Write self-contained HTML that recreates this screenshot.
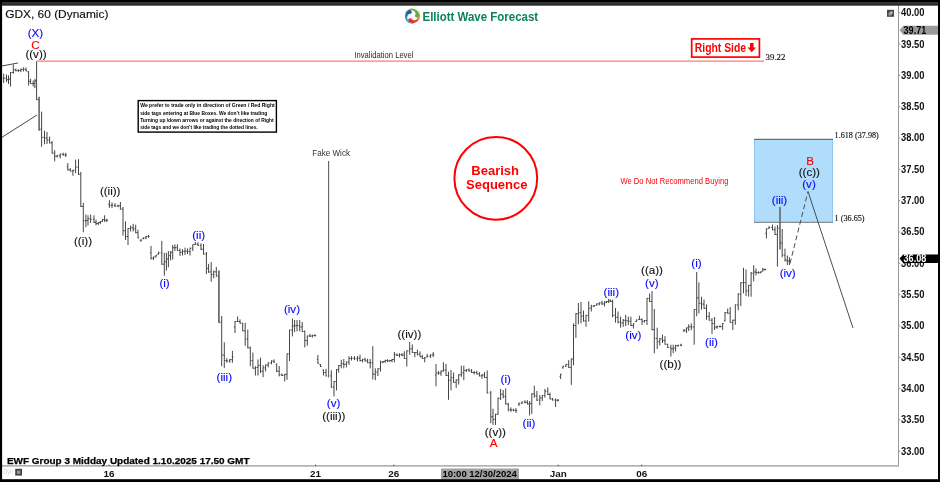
<!DOCTYPE html>
<html><head><meta charset="utf-8"><title>GDX Elliott Wave Chart</title>
<style>html,body{margin:0;padding:0;background:#fff;overflow:hidden}svg{display:block}text{font-family:"Liberation Sans",Arial,sans-serif}.s{font-family:"Liberation Serif","Times New Roman",serif}.b{font-weight:bold}.w{font-size:11.6px}</style></head><body>
<svg width="940" height="482" viewBox="0 0 940 482">
<rect width="940" height="482" fill="#fff"/>
<rect x="754" y="139" width="79" height="83.5" fill="#b1ddfd"/>
<path d="M754.5 139V222.5M832.5 139V222.5" stroke="#8ec6f2" stroke-width="1"/>
<path d="M754 139.3H833" stroke="#333" stroke-width=".8"/><path d="M754 222.3H833" stroke="#777" stroke-width="1"/>
<path d="M36.5 61H764" stroke="#ff2020" stroke-opacity=".6" stroke-width="1.25"/>
<path d="M0 66.3L18 63" stroke="#333" stroke-width=".9"/><path d="M0 138.5L37 115" stroke="#333" stroke-width=".9"/>
<path d="M328.6 161V377.5" stroke="#5a5a5a" stroke-width="1.05"/>
<g><path d="M3.7 73.7V83.0M3.7 78.3h-1.1M3.7 78.3h1.1M6.5 74.6V82.0M6.5 78.3h-1.1M6.5 79.7h1.1M8.5 75.4V84.0M8.5 79.7h-1.1M8.5 79.2h1.1M10.5 72.0V86.5M10.5 79.2h-1.1M10.5 72.5h1.1M13.3 64.4V73.7M13.3 72.5h-1.1M13.3 69.9h1.1M15.8 68.5V71.4M15.8 69.9h-1.1M15.8 70.6h1.1M18.4 69.3V71.9M18.4 70.6h-1.1M18.4 70.4h1.1M20.9 68.6V72.2M20.9 70.4h-1.1M20.9 69.4h1.1M23.4 67.4V71.5M23.4 69.4h-1.1M23.4 69.4h1.1M26.0 67.5V71.3M26.0 69.4h-1.1M26.0 70.8h1.1M28.6 71.2V85.6M28.6 71.7h-1.1M28.6 81.4h1.1M30.6 78.8V84.0M30.6 81.4h-1.1M30.6 83.5h1.1M33.2 80.5V86.5M33.2 83.5h-1.1M33.2 83.5h1.1M34.9 78.8V88.2M34.9 83.5h-1.1M34.9 80.8h1.1M36.6 61.5V100.1M36.6 80.8h-1.1M36.6 99.6h1.1M41.6 111.6V146.8M41.6 129.2h-1.1M41.6 137.4h1.1M44.5 130.6V144.3M44.5 137.4h-1.1M44.5 138.0h1.1M47.0 132.0V144.0M47.0 138.0h-1.1M47.0 140.0h1.1M49.6 136.6V143.4M49.6 140.0h-1.1M49.6 142.9h1.1M52.1 140.9V153.6M52.1 142.9h-1.1M52.1 153.1h1.1M54.7 150.2V161.3M54.7 153.1h-1.1M54.7 156.1h1.1M57.2 154.8V157.5M57.2 156.1h-1.1M57.2 155.8h1.1M60.2 153.3V158.4M60.2 155.8h-1.1M60.2 154.2h1.1M63.2 152.7V155.8M63.2 154.2h-1.1M63.2 154.9h1.1M65.7 152.8V157.0M65.7 154.9h-1.1M65.7 154.9h1.1M67.8 163.0V170.6M67.8 166.8h-1.1M67.8 169.8h1.1M70.3 168.0V171.5M70.3 169.8h-1.1M70.3 171.0h1.1M72.9 169.8V175.7M72.9 171.0h-1.1M72.9 170.3h1.1M75.6 159.6V173.2M75.6 170.3h-1.1M75.6 167.1h1.1M78.5 159.2V174.9M78.5 167.1h-1.1M78.5 174.4h1.1M80.8 172.0V207.0M80.8 174.4h-1.1M80.8 206.5h1.1M83.3 202.8V232.3M83.3 206.5h-1.1M83.3 220.8h1.1M85.9 214.5V227.2M85.9 220.8h-1.1M85.9 220.4h1.1M88.0 215.3V225.5M88.0 220.4h-1.1M88.0 218.8h1.1M90.6 214.5V223.0M90.6 218.8h-1.1M90.6 219.2h1.1M94.0 215.3V223.0M94.0 219.2h-1.1M94.0 222.5h1.1M96.0 219.6V225.5M96.0 222.5h-1.1M96.0 223.5h1.1M98.3 222.0V225.0M98.3 223.5h-1.1M98.3 222.5h1.1M100.3 221.0V224.0M100.3 222.5h-1.1M100.3 221.5h1.1M102.5 219.0V222.0M102.5 221.5h-1.1M102.5 219.5h1.1M104.6 215.3V222.0M104.6 219.5h-1.1M104.6 220.3h1.1M106.8 218.7V222.0M106.8 220.3h-1.1M106.8 220.3h1.1M109.4 200.2V207.9M109.4 204.1h-1.1M109.4 205.3h1.1M112.0 202.5V208.0M112.0 205.3h-1.1M112.0 205.2h1.1M115.0 203.3V207.0M115.0 205.2h-1.1M115.0 206.0h1.1M118.0 204.7V207.2M118.0 206.0h-1.1M118.0 205.8h1.1M120.4 202.0V209.6M120.4 205.8h-1.1M120.4 209.1h1.1M123.0 206.8V235.7M123.0 209.1h-1.1M123.0 230.7h1.1M125.5 221.3V240.0M125.5 230.7h-1.1M125.5 236.5h1.1M128.0 228.0V245.0M128.0 236.5h-1.1M128.0 228.5h1.1M130.6 225.5V231.5M130.6 228.5h-1.1M130.6 227.7h1.1M133.2 223.8V231.5M133.2 227.7h-1.1M133.2 228.9h1.1M135.7 224.7V233.2M135.7 228.9h-1.1M135.7 232.7h1.1M138.0 229.8V238.3M138.0 232.7h-1.1M138.0 237.8h1.1M140.9 239.6V241.8M140.9 240.1h-1.1M140.9 240.1h1.1M143.4 237.4V239.2M143.4 238.7h-1.1M143.4 237.9h1.1M146.0 235.9V239.3M146.0 237.9h-1.1M146.0 236.4h1.1M148.5 234.9V237.8M148.5 236.4h-1.1M148.5 236.4h1.1M151.0 246.0V259.6M151.0 252.8h-1.1M151.0 258.3h1.1M153.5 256.5V260.1M153.5 258.3h-1.1M153.5 257.0h1.1M156.0 254.8V257.4M156.0 256.9h-1.1M156.0 255.3h1.1M158.5 251.6V254.7M158.5 254.2h-1.1M158.5 252.8h1.1M161.8 240.9V264.7M161.8 252.8h-1.1M161.8 264.2h1.1M164.3 252.8V275.7M164.3 264.2h-1.1M164.3 261.7h1.1M166.4 252.8V270.6M166.4 261.7h-1.1M166.4 259.1h1.1M168.4 251.0V267.2M168.4 259.1h-1.1M168.4 255.7h1.1M170.6 251.0V260.4M170.6 255.7h-1.1M170.6 252.3h1.1M172.7 245.0V259.6M172.7 252.3h-1.1M172.7 247.7h1.1M174.9 244.3V251.0M174.9 247.7h-1.1M174.9 247.7h1.1M177.4 244.3V251.0M177.4 247.7h-1.1M177.4 250.5h1.1M180.0 248.5V256.0M180.0 250.5h-1.1M180.0 252.4h1.1M182.5 249.2V255.5M182.5 252.4h-1.1M182.5 251.3h1.1M185.0 247.7V254.9M185.0 251.3h-1.1M185.0 251.2h1.1M187.5 248.4V254.1M187.5 251.2h-1.1M187.5 251.6h1.1M190.0 247.7V255.5M190.0 251.6h-1.1M190.0 248.2h1.1M192.8 244.3V251.0M192.8 248.2h-1.1M192.8 244.8h1.1M195.3 242.1V244.9M195.3 244.4h-1.1M195.3 244.1h1.1M198.0 242.3V245.8M198.0 244.1h-1.1M198.0 245.3h1.1M201.0 243.4V250.0M201.0 245.3h-1.1M201.0 249.2h1.1M203.5 244.0V254.5M203.5 249.2h-1.1M203.5 254.0h1.1M206.4 252.0V274.0M206.4 254.0h-1.1M206.4 268.4h1.1M208.6 263.8V273.0M208.6 268.4h-1.1M208.6 271.9h1.1M211.2 262.0V281.7M211.2 271.9h-1.1M211.2 274.5h1.1M213.7 270.6V278.3M213.7 274.5h-1.1M213.7 271.8h1.1M216.3 267.0V276.6M216.3 271.8h-1.1M216.3 276.1h1.1M221.7 316.0V366.2M221.7 322.3h-1.1M221.7 355.1h1.1M224.3 342.3V367.9M224.3 355.1h-1.1M224.3 360.5h1.1M226.8 358.2V362.7M226.8 360.5h-1.1M226.8 361.0h1.1M229.8 359.1V362.8M229.8 361.0h-1.1M229.8 359.6h1.1M232.4 350.9V362.8M232.4 359.6h-1.1M232.4 356.9h1.1M235.0 321.0V333.0M235.0 327.0h-1.1M235.0 321.5h1.1M237.6 316.5V322.0M237.6 321.5h-1.1M237.6 321.5h1.1M240.0 319.4V323.6M240.0 321.5h-1.1M240.0 323.1h1.1M242.7 322.8V331.3M242.7 323.3h-1.1M242.7 330.8h1.1M245.2 322.8V345.7M245.2 330.8h-1.1M245.2 339.0h1.1M247.8 329.6V348.3M247.8 339.0h-1.1M247.8 347.8h1.1M250.3 346.6V366.2M250.3 347.8h-1.1M250.3 360.6h1.1M252.9 352.6V368.7M252.9 360.6h-1.1M252.9 368.2h1.1M255.4 366.2V375.5M255.4 368.2h-1.1M255.4 367.4h1.1M258.0 359.4V375.5M258.0 367.4h-1.1M258.0 365.4h1.1M260.5 357.7V373.0M260.5 365.4h-1.1M260.5 371.2h1.1M263.1 365.3V377.2M263.1 371.2h-1.1M263.1 367.9h1.1M265.6 364.5V371.3M265.6 367.9h-1.1M265.6 365.0h1.1M268.2 362.4V367.3M268.2 365.0h-1.1M268.2 362.9h1.1M271.5 360.3V364.3M271.5 362.9h-1.1M271.5 361.1h1.1M274.0 359.4V362.8M274.0 361.1h-1.1M274.0 362.3h1.1M276.7 363.6V372.0M276.7 364.1h-1.1M276.7 371.2h1.1M279.2 366.0V376.4M279.2 371.2h-1.1M279.2 374.8h1.1M281.9 373.5V376.0M281.9 374.8h-1.1M281.9 375.5h1.1M284.7 373.8V381.5M284.7 375.5h-1.1M284.7 374.3h1.1M287.0 353.4V379.8M287.0 374.3h-1.1M287.0 353.9h1.1M289.5 329.6V361.0M289.5 353.9h-1.1M289.5 330.1h1.1M292.4 318.5V336.4M292.4 330.1h-1.1M292.4 326.0h1.1M294.6 320.0V332.0M294.6 326.0h-1.1M294.6 325.6h1.1M297.0 320.0V331.3M297.0 325.6h-1.1M297.0 325.6h1.1M299.7 320.0V331.3M299.7 325.6h-1.1M299.7 327.0h1.1M302.2 322.0V332.0M302.2 327.0h-1.1M302.2 331.5h1.1M304.8 330.4V347.4M304.8 331.5h-1.1M304.8 340.6h1.1M307.3 335.5V345.7M307.3 340.6h-1.1M307.3 336.0h1.1M309.9 333.9V337.0M309.9 336.0h-1.1M309.9 336.1h1.1M312.4 334.6V337.5M312.4 336.1h-1.1M312.4 335.5h1.1M315.0 334.3V336.6M315.0 335.5h-1.1M315.0 335.5h1.1M317.9 355.0V363.6M317.9 359.3h-1.1M317.9 363.1h1.1M320.5 364.0V367.0M320.5 364.5h-1.1M320.5 366.5h1.1M323.5 369.6V375.5M323.5 370.1h-1.1M323.5 372.5h1.1M326.0 368.7V376.4M326.0 372.5h-1.1M326.0 375.9h1.1M331.3 370.2V387.7M331.3 375.9h-1.1M331.3 387.2h1.1M334.0 381.0V396.4M334.0 387.2h-1.1M334.0 381.5h1.1M336.5 369.0V390.4M336.5 381.5h-1.1M336.5 369.5h1.1M338.7 365.0V372.6M338.7 369.5h-1.1M338.7 365.5h1.1M341.3 359.8V368.3M341.3 365.5h-1.1M341.3 363.6h1.1M343.8 359.0V368.3M343.8 363.6h-1.1M343.8 364.4h1.1M346.4 361.5V367.4M346.4 364.4h-1.1M346.4 362.0h1.1M349.0 356.4V365.0M349.0 362.0h-1.1M349.0 358.4h1.1M351.5 356.2V360.6M351.5 358.4h-1.1M351.5 358.2h1.1M354.5 356.2V360.1M354.5 358.2h-1.1M354.5 358.7h1.1M357.5 355.9V361.4M357.5 358.7h-1.1M357.5 358.1h1.1M360.0 354.7V361.5M360.0 358.1h-1.1M360.0 360.5h1.1M362.5 358.7V362.4M362.5 360.5h-1.1M362.5 359.7h1.1M365.1 357.8V361.6M365.1 359.7h-1.1M365.1 360.9h1.1M367.6 358.6V363.2M367.6 360.9h-1.1M367.6 362.7h1.1M370.2 359.0V368.3M370.2 362.7h-1.1M370.2 362.8h1.1M372.8 346.2V379.4M372.8 362.8h-1.1M372.8 374.2h1.1M375.3 368.3V380.2M375.3 374.2h-1.1M375.3 372.1h1.1M377.9 368.3V376.0M377.9 372.1h-1.1M377.9 368.8h1.1M380.5 360.6V371.7M380.5 368.8h-1.1M380.5 362.1h1.1M383.0 361.0V363.3M383.0 362.1h-1.1M383.0 361.5h1.1M385.2 359.7V362.8M385.2 361.5h-1.1M385.2 360.5h1.1M387.5 359.2V361.9M387.5 360.5h-1.1M387.5 360.8h1.1M389.8 359.9V361.8M389.8 360.8h-1.1M389.8 360.6h1.1M392.0 359.0V362.3M392.0 360.6h-1.1M392.0 359.5h1.1M394.4 352.0V362.3M394.4 359.5h-1.1M394.4 354.8h1.1M397.0 353.5V356.0M397.0 354.8h-1.1M397.0 355.3h1.1M399.5 353.2V357.4M399.5 355.3h-1.1M399.5 354.7h1.1M402.0 353.1V356.2M402.0 354.7h-1.1M402.0 355.1h1.1M404.3 351.3V359.0M404.3 355.1h-1.1M404.3 358.5h1.1M406.8 350.4V366.6M406.8 358.5h-1.1M406.8 350.9h1.1M409.7 342.0V354.7M409.7 350.9h-1.1M409.7 348.8h1.1M412.3 344.5V353.0M412.3 348.8h-1.1M412.3 352.5h1.1M414.8 352.0V357.2M414.8 352.5h-1.1M414.8 352.6h1.1M417.4 349.6V355.5M417.4 352.6h-1.1M417.4 354.2h1.1M420.0 351.3V357.2M420.0 354.2h-1.1M420.0 356.7h1.1M422.3 354.7V359.0M422.3 356.7h-1.1M422.3 358.5h1.1M424.7 357.2V362.3M424.7 358.5h-1.1M424.7 357.7h1.1M427.2 353.8V357.4M427.2 356.9h-1.1M427.2 356.1h1.1M430.5 354.4V357.9M430.5 356.1h-1.1M430.5 354.9h1.1M433.2 352.0V357.2M433.2 354.9h-1.1M433.2 354.6h1.1M436.0 364.0V386.2M436.0 375.1h-1.1M436.0 373.0h1.1M438.5 371.1V374.8M438.5 373.0h-1.1M438.5 373.1h1.1M441.0 370.5V375.8M441.0 373.1h-1.1M441.0 371.0h1.1M443.4 362.3V371.7M443.4 371.0h-1.1M443.4 370.0h1.1M446.0 364.0V376.0M446.0 370.0h-1.1M446.0 375.5h1.1M448.5 371.7V399.8M448.5 375.5h-1.1M448.5 380.2h1.1M451.0 370.0V390.4M451.0 380.2h-1.1M451.0 377.7h1.1M453.6 372.6V382.8M453.6 377.7h-1.1M453.6 382.3h1.1M456.2 379.4V387.9M456.2 382.3h-1.1M456.2 379.9h1.1M458.7 374.3V384.5M458.7 379.9h-1.1M458.7 374.8h1.1M461.3 365.7V376.8M461.3 374.8h-1.1M461.3 372.9h1.1M463.8 365.7V380.2M463.8 372.9h-1.1M463.8 370.5h1.1M466.4 369.1V372.0M466.4 370.5h-1.1M466.4 369.9h1.1M469.0 368.4V371.5M469.0 369.9h-1.1M469.0 371.0h1.1M471.6 369.0V373.0M471.6 371.0h-1.1M471.6 372.5h1.1M474.2 371.1V374.4M474.2 372.5h-1.1M474.2 372.5h1.1M476.8 370.7V374.4M476.8 372.5h-1.1M476.8 373.9h1.1M479.4 372.1V376.4M479.4 373.9h-1.1M479.4 375.9h1.1M482.0 374.1V378.7M482.0 375.9h-1.1M482.0 375.0h1.1M484.5 372.0V378.0M484.5 375.0h-1.1M484.5 377.5h1.1M487.2 370.4V393.4M487.2 377.5h-1.1M487.2 392.9h1.1M490.8 390.9V423.2M490.8 392.9h-1.1M490.8 416.8h1.1M493.0 408.7V424.9M493.0 416.8h-1.1M493.0 419.4h1.1M495.5 413.8V424.9M495.5 419.4h-1.1M495.5 414.3h1.1M498.0 397.7V414.7M498.0 414.2h-1.1M498.0 398.2h1.1M500.6 389.0V400.0M500.6 398.2h-1.1M500.6 394.2h1.1M503.2 390.0V398.5M503.2 394.2h-1.1M503.2 396.4h1.1M505.7 388.3V404.5M505.7 396.4h-1.1M505.7 404.0h1.1M508.3 402.8V411.3M508.3 404.0h-1.1M508.3 409.6h1.1M510.9 407.4V411.9M510.9 409.6h-1.1M510.9 410.0h1.1M513.5 408.7V411.2M513.5 410.0h-1.1M513.5 410.4h1.1M516.0 407.9V412.9M516.0 410.4h-1.1M516.0 410.4h1.1M519.0 402.7V406.0M519.0 404.3h-1.1M519.0 403.2h1.1M522.0 401.6V404.1M522.0 403.2h-1.1M522.0 402.1h1.1M525.0 400.2V403.2M525.0 402.1h-1.1M525.0 402.4h1.1M527.4 400.2V404.5M527.4 402.4h-1.1M527.4 404.0h1.1M529.6 401.0V415.5M529.6 404.0h-1.1M529.6 403.6h1.1M531.8 393.4V413.8M531.8 403.6h-1.1M531.8 393.9h1.1M534.3 385.7V397.7M534.3 393.9h-1.1M534.3 395.9h1.1M536.9 390.9V401.0M536.9 395.9h-1.1M536.9 400.1h1.1M539.8 395.0V405.3M539.8 400.1h-1.1M539.8 398.0h1.1M542.3 395.0V401.0M542.3 398.0h-1.1M542.3 395.5h1.1M544.9 389.0V397.7M544.9 395.5h-1.1M544.9 391.2h1.1M547.8 387.4V395.0M547.8 391.2h-1.1M547.8 394.5h1.1M550.0 392.6V399.4M550.0 394.5h-1.1M550.0 398.9h1.1M552.5 398.0V400.5M552.5 398.9h-1.1M552.5 400.0h1.1M555.6 398.5V407.0M555.6 400.0h-1.1M555.6 400.2h1.1M558.0 399.0V401.5M558.0 400.2h-1.1M558.0 400.2h1.1M560.6 373.8V379.0M560.6 376.4h-1.1M560.6 374.3h1.1M563.0 365.8V368.4M563.0 367.9h-1.1M563.0 366.3h1.1M566.0 363.9V366.9M566.0 366.3h-1.1M566.0 364.4h1.1M568.7 360.2V367.9M568.7 364.4h-1.1M568.7 367.4h1.1M571.3 358.5V384.9M571.3 367.4h-1.1M571.3 359.0h1.1M573.5 323.4V365.3M573.5 359.0h-1.1M573.5 325.5h1.1M575.9 313.2V337.9M575.9 325.5h-1.1M575.9 313.7h1.1M578.4 303.0V324.3M578.4 313.7h-1.1M578.4 312.7h1.1M581.0 302.0V323.4M581.0 312.7h-1.1M581.0 316.1h1.1M583.5 310.6V321.7M583.5 316.1h-1.1M583.5 320.9h1.1M586.0 314.9V326.8M586.0 320.9h-1.1M586.0 315.4h1.1M588.7 301.3V321.7M588.7 315.4h-1.1M588.7 308.1h1.1M591.3 304.7V311.5M591.3 308.1h-1.1M591.3 306.1h1.1M594.0 305.1V307.1M594.0 306.1h-1.1M594.0 305.6h1.1M596.7 303.4V305.7M596.7 305.2h-1.1M596.7 303.9h1.1M599.3 302.4V305.3M599.3 303.9h-1.1M599.3 302.9h1.1M602.0 300.7V305.0M602.0 302.9h-1.1M602.0 303.9h1.1M604.5 301.3V306.4M604.5 303.9h-1.1M604.5 302.1h1.1M606.6 301.0V303.2M606.6 302.1h-1.1M606.6 301.5h1.1M608.7 298.7V303.0M608.7 301.5h-1.1M608.7 300.8h1.1M610.6 299.5V302.0M610.6 300.8h-1.1M610.6 301.5h1.1M612.6 299.6V317.4M612.6 301.5h-1.1M612.6 315.3h1.1M615.5 308.0V322.6M615.5 315.3h-1.1M615.5 317.4h1.1M618.0 311.5V323.4M618.0 317.4h-1.1M618.0 322.1h1.1M620.6 316.6V327.7M620.6 322.1h-1.1M620.6 322.9h1.1M623.2 319.0V326.8M623.2 322.9h-1.1M623.2 320.4h1.1M625.7 314.9V326.0M625.7 320.4h-1.1M625.7 320.8h1.1M628.3 316.6V325.0M628.3 320.8h-1.1M628.3 321.3h1.1M630.9 316.6V326.0M630.9 321.3h-1.1M630.9 325.5h1.1M633.4 323.4V328.5M633.4 325.5h-1.1M633.4 323.9h1.1M636.4 319.5V322.0M636.4 321.5h-1.1M636.4 320.0h1.1M639.4 315.7V320.0M639.4 319.5h-1.1M639.4 319.5h1.1M642.0 318.3V325.0M642.0 319.5h-1.1M642.0 321.2h1.1M644.5 320.0V322.5M644.5 321.2h-1.1M644.5 320.5h1.1M647.0 297.9V325.0M647.0 320.5h-1.1M647.0 298.4h1.1M649.6 293.6V302.0M649.6 298.4h-1.1M649.6 301.5h1.1M652.0 291.0V330.2M652.0 301.5h-1.1M652.0 329.7h1.1M654.3 309.0V353.2M654.3 329.7h-1.1M654.3 338.4h1.1M657.2 327.7V349.0M657.2 338.4h-1.1M657.2 341.7h1.1M659.8 337.9V345.5M659.8 341.7h-1.1M659.8 338.8h1.1M662.5 334.5V343.0M662.5 338.8h-1.1M662.5 340.4h1.1M665.0 336.2V344.7M665.0 340.4h-1.1M665.0 344.2h1.1M667.7 343.8V348.0M667.7 344.3h-1.1M667.7 347.5h1.1M670.9 344.7V356.6M670.9 347.5h-1.1M670.9 348.9h1.1M673.2 344.7V353.2M673.2 348.9h-1.1M673.2 348.1h1.1M675.6 344.7V351.5M675.6 348.1h-1.1M675.6 345.7h1.1M678.0 344.8V346.7M678.0 345.7h-1.1M678.0 345.3h1.1M681.0 343.8V346.2M681.0 345.3h-1.1M681.0 345.0h1.1M684.0 329.3V332.1M684.0 330.7h-1.1M684.0 330.2h1.1M686.5 327.4V333.0M686.5 330.2h-1.1M686.5 327.9h1.1M688.7 324.3V331.0M688.7 327.9h-1.1M688.7 326.8h1.1M691.3 323.4V330.2M691.3 326.8h-1.1M691.3 326.9h1.1M694.2 309.0V344.7M694.2 326.9h-1.1M694.2 309.5h1.1M696.7 272.0V316.3M696.7 309.5h-1.1M696.7 297.9h1.1M698.9 282.4V313.5M698.9 297.9h-1.1M698.9 303.2h1.1M701.5 296.8V309.6M701.5 303.2h-1.1M701.5 304.1h1.1M704.0 299.5V308.8M704.0 304.1h-1.1M704.0 308.3h1.1M706.5 304.5V319.8M706.5 308.3h-1.1M706.5 316.4h1.1M709.2 312.0V320.7M709.2 316.4h-1.1M709.2 320.2h1.1M712.0 318.0V334.0M712.0 320.2h-1.1M712.0 323.5h1.1M714.6 317.0V330.0M714.6 323.5h-1.1M714.6 327.2h1.1M717.0 325.6V328.8M717.0 327.2h-1.1M717.0 326.5h1.1M720.0 325.4V327.6M720.0 326.5h-1.1M720.0 326.5h1.1M722.6 323.0V330.0M722.6 326.5h-1.1M722.6 323.5h1.1M725.0 312.0V321.4M725.0 320.9h-1.1M725.0 312.5h1.1M727.7 308.6V313.7M727.7 312.5h-1.1M727.7 313.2h1.1M730.2 307.0V323.0M730.2 313.2h-1.1M730.2 322.5h1.1M732.8 319.7V330.0M732.8 322.5h-1.1M732.8 320.2h1.1M735.3 304.4V324.8M735.3 320.2h-1.1M735.3 304.9h1.1M738.2 293.3V310.3M738.2 304.9h-1.1M738.2 294.1h1.1M740.8 282.2V306.0M740.8 294.1h-1.1M740.8 282.7h1.1M743.5 267.8V293.3M743.5 282.7h-1.1M743.5 282.7h1.1M746.0 269.5V295.9M746.0 282.7h-1.1M746.0 290.8h1.1M748.6 284.8V296.7M748.6 290.8h-1.1M748.6 285.3h1.1M751.1 272.0V296.7M751.1 285.3h-1.1M751.1 273.3h1.1M753.7 265.2V281.4M753.7 273.3h-1.1M753.7 272.0h1.1M756.0 268.6V275.4M756.0 272.0h-1.1M756.0 272.6h1.1M758.5 271.5V273.7M758.5 272.6h-1.1M758.5 272.4h1.1M760.7 271.4V273.4M760.7 272.4h-1.1M760.7 271.9h1.1M762.8 267.8V271.5M762.8 271.0h-1.1M762.8 269.6h1.1M765.0 268.6V270.5M765.0 269.6h-1.1M765.0 269.6h1.1M766.4 228.3V238.5M766.4 233.4h-1.1M766.4 228.8h1.1M769.0 226.2V228.7M769.0 228.2h-1.1M769.0 227.5h1.1M772.5 224.6V230.3M772.5 227.5h-1.1M772.5 229.8h1.1M775.0 226.6V235.0M775.0 229.8h-1.1M775.0 234.5h1.1M777.4 225.0V266.6M777.4 234.5h-1.1M777.4 228.3h1.1M782.2 229.0V257.2M782.2 243.1h-1.1M782.2 255.1h1.1M785.0 248.7V261.5M785.0 255.1h-1.1M785.0 260.2h1.1M787.3 255.5V265.0M787.3 260.2h-1.1M787.3 261.1h1.1M789.4 257.2V265.0M789.4 261.1h-1.1M789.4 261.1h1.1" fill="none" stroke="#454545" stroke-width="1"/><path d="M39.1 96.7V130.7M39.1 99.6h-1.1M39.1 129.2h1.1" fill="none" stroke="#666" stroke-width="1.6"/><path d="M218.9 270.6V322.8M218.9 276.1h-1.1M218.9 322.3h1.1" fill="none" stroke="#666" stroke-width="1.7"/><path d="M780.0 207.0V249.6M780.0 228.3h-1.1M780.0 243.1h1.1" fill="none" stroke="#666" stroke-width="1.6"/></g>
<path d="M790 263.5L808 191.5" stroke="#444" stroke-width=".95" stroke-dasharray="5 3" fill="none"/>
<path d="M808 191.5L853 328" stroke="#444" stroke-width=".95" fill="none"/>
<path d="M898.5 5V466" stroke="#999" stroke-width="1"/><path d="M2 465.9H899" stroke="#b4b4b4" stroke-width="1.8"/>
<path d="M899 12.7h1.3" stroke="#999" stroke-width="1"/>
<text x="901" y="16.1" class="b" font-size="10.4" fill="#111" textLength="23.4" lengthAdjust="spacingAndGlyphs">40.00</text>
<path d="M899 44.1h1.3" stroke="#999" stroke-width="1"/>
<text x="901" y="47.5" class="b" font-size="10.4" fill="#111" textLength="23.4" lengthAdjust="spacingAndGlyphs">39.50</text>
<path d="M899 75.4h1.3" stroke="#999" stroke-width="1"/>
<text x="901" y="78.8" class="b" font-size="10.4" fill="#111" textLength="23.4" lengthAdjust="spacingAndGlyphs">39.00</text>
<path d="M899 106.7h1.3" stroke="#999" stroke-width="1"/>
<text x="901" y="110.1" class="b" font-size="10.4" fill="#111" textLength="23.4" lengthAdjust="spacingAndGlyphs">38.50</text>
<path d="M899 138.0h1.3" stroke="#999" stroke-width="1"/>
<text x="901" y="141.4" class="b" font-size="10.4" fill="#111" textLength="23.4" lengthAdjust="spacingAndGlyphs">38.00</text>
<path d="M899 169.3h1.3" stroke="#999" stroke-width="1"/>
<text x="901" y="172.8" class="b" font-size="10.4" fill="#111" textLength="23.4" lengthAdjust="spacingAndGlyphs">37.50</text>
<path d="M899 200.7h1.3" stroke="#999" stroke-width="1"/>
<text x="901" y="204.1" class="b" font-size="10.4" fill="#111" textLength="23.4" lengthAdjust="spacingAndGlyphs">37.00</text>
<path d="M899 232.0h1.3" stroke="#999" stroke-width="1"/>
<text x="901" y="235.4" class="b" font-size="10.4" fill="#111" textLength="23.4" lengthAdjust="spacingAndGlyphs">36.50</text>
<path d="M899 263.3h1.3" stroke="#999" stroke-width="1"/>
<text x="901" y="266.7" class="b" font-size="10.4" fill="#111" textLength="23.4" lengthAdjust="spacingAndGlyphs">36.00</text>
<path d="M899 294.6h1.3" stroke="#999" stroke-width="1"/>
<text x="901" y="298.0" class="b" font-size="10.4" fill="#111" textLength="23.4" lengthAdjust="spacingAndGlyphs">35.50</text>
<path d="M899 326.0h1.3" stroke="#999" stroke-width="1"/>
<text x="901" y="329.4" class="b" font-size="10.4" fill="#111" textLength="23.4" lengthAdjust="spacingAndGlyphs">35.00</text>
<path d="M899 357.3h1.3" stroke="#999" stroke-width="1"/>
<text x="901" y="360.7" class="b" font-size="10.4" fill="#111" textLength="23.4" lengthAdjust="spacingAndGlyphs">34.50</text>
<path d="M899 388.6h1.3" stroke="#999" stroke-width="1"/>
<text x="901" y="392.0" class="b" font-size="10.4" fill="#111" textLength="23.4" lengthAdjust="spacingAndGlyphs">34.00</text>
<path d="M899 419.9h1.3" stroke="#999" stroke-width="1"/>
<text x="901" y="423.3" class="b" font-size="10.4" fill="#111" textLength="23.4" lengthAdjust="spacingAndGlyphs">33.50</text>
<path d="M899 451.3h1.3" stroke="#999" stroke-width="1"/>
<text x="901" y="454.7" class="b" font-size="10.4" fill="#111" textLength="23.4" lengthAdjust="spacingAndGlyphs">33.00</text>
<path d="M899.6 30.3L903.2 25.8H938V34.8H903.2Z" fill="#9a9a9a"/>
<text x="903.6" y="34.1" class="b" font-size="10.4" fill="#000" textLength="22.6" lengthAdjust="spacingAndGlyphs">39.71</text>
<path d="M899.6 258.6L903.2 254.4H938V262.9H903.2Z" fill="#000"/>
<text x="903.6" y="262" class="b" font-size="10.4" fill="#fff" textLength="22.6" lengthAdjust="spacingAndGlyphs">36.08</text>
<rect x="887" y="9.8" width="7" height="7" fill="#474747"/><ellipse cx="890.6" cy="13.4" rx="2.5" ry="1.6" transform="rotate(-38 890.6 13.4)" fill="#b8b8b8"/><circle cx="890" cy="14" r=".8" fill="#666"/>
<path d="M109.0 464.6v1.5" stroke="#555" stroke-width="1"/>
<text x="109.0" y="476.8" class="b" font-size="9.9" fill="#111" text-anchor="middle">16</text>
<path d="M315.5 464.6v1.5" stroke="#555" stroke-width="1"/>
<text x="315.5" y="476.8" class="b" font-size="9.9" fill="#111" text-anchor="middle">21</text>
<path d="M393.8 464.6v1.5" stroke="#555" stroke-width="1"/>
<text x="393.8" y="476.8" class="b" font-size="9.9" fill="#111" text-anchor="middle">26</text>
<path d="M558.3 464.6v1.5" stroke="#555" stroke-width="1"/>
<text x="558.3" y="476.8" class="b" font-size="9.9" fill="#111" text-anchor="middle">Jan</text>
<path d="M641.7 464.6v1.5" stroke="#555" stroke-width="1"/>
<text x="641.7" y="476.8" class="b" font-size="9.9" fill="#111" text-anchor="middle">06</text>
<rect x="441" y="468.5" width="78" height="11" fill="#a2a2a2"/>
<text x="442.4" y="476.8" class="b" font-size="9.9" fill="#000" textLength="74.4" lengthAdjust="spacingAndGlyphs">10:00 12/30/2024</text>
<text x="3.5" y="474.3" font-size="6.5" fill="#cfcfcf" textLength="9.3" lengthAdjust="spacingAndGlyphs">Dyn</text>
<rect x="15.2" y="468.8" width="6.8" height="6.8" fill="#444"/><rect x="17" y="470.6" width="3.2" height="3.2" fill="#999"/>
<text x="6.9" y="463.5" class="b" font-size="9.5" fill="#000" stroke="#000" stroke-width=".25" textLength="242.6" lengthAdjust="spacingAndGlyphs">EWF Group 3 Midday Updated 1.10.2025 17.50 GMT</text>
<text x="5.2" y="18.4" font-size="11.5" fill="#111" stroke="#111" stroke-width=".15" textLength="103.2" lengthAdjust="spacingAndGlyphs">GDX, 60 (Dynamic)</text>
<defs><linearGradient id="lg" gradientUnits="userSpaceOnUse" x1="405" y1="12" x2="419" y2="17"><stop offset="0" stop-color="#86cc47"/><stop offset="1" stop-color="#41ad3a"/></linearGradient><linearGradient id="lr" gradientUnits="userSpaceOnUse" x1="419.5" y1="11" x2="409" y2="21"><stop offset="0" stop-color="#f58a3c"/><stop offset="1" stop-color="#ee1c1c"/></linearGradient><linearGradient id="lb" gradientUnits="userSpaceOnUse" x1="411" y1="23.5" x2="408" y2="10"><stop offset="0" stop-color="#2aaae6"/><stop offset="0.45" stop-color="#1f8fd8"/><stop offset="1" stop-color="#1c469c"/></linearGradient></defs><path d="M405.06 13.37L405.42 12.56L405.86 11.79L406.39 11.09L407.00 10.45L407.69 9.90L408.43 9.42L409.22 9.05L410.04 8.77L410.89 8.59L411.75 8.51L412.61 8.54L413.46 8.67L414.28 8.89L415.06 9.22L415.80 9.63L416.47 10.12L417.08 10.68L417.60 11.31L418.05 11.99L418.41 12.71L418.67 13.46L418.84 14.23L418.91 15.00L418.90 15.77L415.00 15.91L415.23 15.56L415.41 15.16L415.52 14.71L415.57 14.24L415.54 13.74L415.43 13.23L415.24 12.72L414.97 12.23L414.62 11.76L414.20 11.33L413.71 10.96L413.15 10.64L412.54 10.40L411.88 10.23L411.19 10.15L410.48 10.17L409.76 10.28L409.05 10.48L408.36 10.79L407.70 11.18L407.10 11.67L406.55 12.24L406.09 12.89L405.72 13.61Z" fill="url(#lg)"/><circle cx="416.95" cy="15.84" r="1.95" fill="url(#lg)"/><path d="M418.20 11.05L418.73 11.76L419.16 12.53L419.51 13.34L419.75 14.19L419.89 15.06L419.93 15.93L419.86 16.81L419.69 17.66L419.42 18.49L419.06 19.27L418.61 20.00L418.07 20.67L417.46 21.27L416.79 21.79L416.07 22.22L415.31 22.55L414.52 22.80L413.71 22.94L412.90 22.98L412.10 22.93L411.32 22.79L410.57 22.55L409.86 22.23L409.20 21.83L411.03 18.38L411.22 18.76L411.48 19.11L411.80 19.43L412.19 19.71L412.64 19.93L413.13 20.10L413.67 20.19L414.23 20.20L414.81 20.13L415.39 19.98L415.96 19.74L416.52 19.41L417.03 19.01L417.51 18.52L417.92 17.96L418.26 17.34L418.53 16.66L418.70 15.94L418.79 15.19L418.77 14.43L418.65 13.66L418.43 12.90L418.10 12.17L417.66 11.50Z" fill="url(#lr)"/><circle cx="410.12" cy="20.11" r="1.95" fill="url(#lr)"/><path d="M413.64 23.58L412.76 23.68L411.88 23.68L411.00 23.57L410.14 23.36L409.32 23.05L408.54 22.64L407.82 22.15L407.16 21.57L406.58 20.93L406.09 20.22L405.68 19.46L405.37 18.66L405.16 17.84L405.04 17.00L405.03 16.16L405.12 15.33L405.31 14.52L405.58 13.75L405.95 13.03L406.40 12.36L406.91 11.75L407.49 11.22L408.13 10.77L408.80 10.40L410.87 13.71L410.45 13.68L410.02 13.73L409.58 13.85L409.14 14.05L408.72 14.33L408.34 14.67L407.99 15.09L407.70 15.57L407.47 16.11L407.31 16.69L407.23 17.30L407.23 17.94L407.33 18.60L407.51 19.25L407.79 19.88L408.16 20.49L408.61 21.06L409.15 21.57L409.75 22.02L410.43 22.39L411.15 22.67L411.92 22.86L412.71 22.93L413.52 22.89Z" fill="url(#lb)"/><circle cx="409.84" cy="12.06" r="1.95" fill="url(#lb)"/>
<text x="422.5" y="20.7" class="b" font-size="12" fill="#0b8457" textLength="115.6" lengthAdjust="spacingAndGlyphs">Elliott Wave Forecast</text>
<text x="354.4" y="57.6" font-size="8.6" fill="#2a2a2a" textLength="59" lengthAdjust="spacingAndGlyphs">Invalidation Level</text>
<text x="312.3" y="155.6" font-size="8.8" fill="#333" textLength="37.7" lengthAdjust="spacingAndGlyphs">Fake Wick</text>
<rect x="691.7" y="38.9" width="67.7" height="18.2" fill="#fff" stroke="#f00" stroke-width="1.7"/>
<text x="694.8" y="52.3" class="b" font-size="13" fill="#f00" textLength="51.3" lengthAdjust="spacingAndGlyphs">Right Side</text>
<path d="M750 43h3.6v4.4h2.4l-4.2 4.9-4.2-4.9h2.4z" fill="#f00"/>
<text x="765.6" y="59.8" class="s" font-size="9" fill="#111" stroke="#111" stroke-width=".15" textLength="19.8" lengthAdjust="spacingAndGlyphs">39.22</text>
<text x="834.6" y="137.9" class="s" font-size="8.8" fill="#111" stroke="#111" stroke-width=".15" textLength="44.2" lengthAdjust="spacingAndGlyphs">1.618 (37.98)</text>
<text x="834.6" y="220.9" class="s" font-size="8.8" fill="#111" stroke="#111" stroke-width=".15" textLength="30" lengthAdjust="spacingAndGlyphs">1 (36.65)</text>
<rect x="138.2" y="100.6" width="138.2" height="31.5" fill="#fff" stroke="#000" stroke-width="1.4"/>
<text x="140.2" y="107.3" class="b" font-size="5.6" fill="#000" textLength="134.5" lengthAdjust="spacingAndGlyphs">We prefer to trade only in direction of Green / Red Right</text>
<text x="140.2" y="114.5" class="b" font-size="5.6" fill="#000" textLength="127.0" lengthAdjust="spacingAndGlyphs">side tags entering at Blue Boxes. We don’t like trading</text>
<text x="140.2" y="121.6" class="b" font-size="5.6" fill="#000" textLength="133.5" lengthAdjust="spacingAndGlyphs">Turning up /down arrows or against the direction of Right</text>
<text x="140.2" y="128.8" class="b" font-size="5.6" fill="#000" textLength="117.5" lengthAdjust="spacingAndGlyphs">side tags and we don’t like trading the dotted lines.</text>
<circle cx="495.8" cy="178.3" r="41.4" fill="none" stroke="#f00" stroke-width="2"/>
<text x="495.2" y="175" class="b" font-size="13" fill="#f00" text-anchor="middle">Bearish</text>
<text x="496.8" y="189" class="b" font-size="13" fill="#f00" text-anchor="middle">Sequence</text>
<text x="620.4" y="184.2" font-size="9.5" fill="#f00" textLength="108" lengthAdjust="spacingAndGlyphs">We Do Not Recommend Buying</text>
<text x="35.4" y="36.7" class="w" fill="#0808ff" stroke="#0808ff" stroke-width=".14" text-anchor="middle">(X)</text>
<text x="35.5" y="48.5" class="w" fill="#f00" stroke="#f00" stroke-width=".14" text-anchor="middle">C</text>
<text x="36.0" y="57.7" class="w" fill="#111" stroke="#111" stroke-width=".14" text-anchor="middle">((v))</text>
<text x="83.0" y="244.8" class="w" fill="#111" stroke="#111" stroke-width=".14" text-anchor="middle">((i))</text>
<text x="110.2" y="194.7" class="w" fill="#111" stroke="#111" stroke-width=".14" text-anchor="middle">((ii))</text>
<text x="164.6" y="287.3" class="w" fill="#0808ff" stroke="#0808ff" stroke-width=".14" text-anchor="middle">(i)</text>
<text x="198.7" y="238.8" class="w" fill="#0808ff" stroke="#0808ff" stroke-width=".14" text-anchor="middle">(ii)</text>
<text x="224.3" y="380.8" class="w" fill="#0808ff" stroke="#0808ff" stroke-width=".14" text-anchor="middle">(iii)</text>
<text x="292.0" y="313.4" class="w" fill="#0808ff" stroke="#0808ff" stroke-width=".14" text-anchor="middle">(iv)</text>
<text x="333.6" y="407.1" class="w" fill="#0808ff" stroke="#0808ff" stroke-width=".14" text-anchor="middle">(v)</text>
<text x="333.8" y="419.7" class="w" fill="#111" stroke="#111" stroke-width=".14" text-anchor="middle">((iii))</text>
<text x="409.4" y="337.9" class="w" fill="#111" stroke="#111" stroke-width=".14" text-anchor="middle">((iv))</text>
<text x="505.7" y="382.6" class="w" fill="#0808ff" stroke="#0808ff" stroke-width=".14" text-anchor="middle">(i)</text>
<text x="529.0" y="427.1" class="w" fill="#0808ff" stroke="#0808ff" stroke-width=".14" text-anchor="middle">(ii)</text>
<text x="495.3" y="435.6" class="w" fill="#111" stroke="#111" stroke-width=".14" text-anchor="middle">((v))</text>
<text x="493.5" y="446.9" class="w" fill="#f00" stroke="#f00" stroke-width=".14" text-anchor="middle">A</text>
<text x="611.3" y="296.1" class="w" fill="#0808ff" stroke="#0808ff" stroke-width=".14" text-anchor="middle">(iii)</text>
<text x="633.4" y="339.1" class="w" fill="#0808ff" stroke="#0808ff" stroke-width=".14" text-anchor="middle">(iv)</text>
<text x="651.8" y="286.8" class="w" fill="#0808ff" stroke="#0808ff" stroke-width=".14" text-anchor="middle">(v)</text>
<text x="652.0" y="273.9" class="w" fill="#111" stroke="#111" stroke-width=".14" text-anchor="middle">((a))</text>
<text x="670.5" y="367.6" class="w" fill="#111" stroke="#111" stroke-width=".14" text-anchor="middle">((b))</text>
<text x="696.5" y="266.5" class="w" fill="#0808ff" stroke="#0808ff" stroke-width=".14" text-anchor="middle">(i)</text>
<text x="711.5" y="346.1" class="w" fill="#0808ff" stroke="#0808ff" stroke-width=".14" text-anchor="middle">(ii)</text>
<text x="779.5" y="203.6" class="w" fill="#0808ff" stroke="#0808ff" stroke-width=".14" text-anchor="middle">(iii)</text>
<text x="787.7" y="277.1" class="w" fill="#0808ff" stroke="#0808ff" stroke-width=".14" text-anchor="middle">(iv)</text>
<text x="810.0" y="165.3" class="w" fill="#f00" stroke="#f00" stroke-width=".14" text-anchor="middle">B</text>
<text x="809.3" y="175.9" class="w" fill="#111" stroke="#111" stroke-width=".14" text-anchor="middle">((c))</text>
<text x="809.0" y="187.8" class="w" fill="#0808ff" stroke="#0808ff" stroke-width=".14" text-anchor="middle">(v)</text>
<rect x="0" y="0" width="940" height="5.7" fill="#2b2b2b"/><rect x="0" y="0" width="940" height="2.1" fill="#000"/><rect x="0" y="2" width="940" height="1.6" fill="#383838"/>
<rect x="0" y="0" width="2.1" height="482" fill="#000"/><rect x="938" y="0" width="2" height="482" fill="#000"/><rect x="0" y="479.2" width="940" height="2.8" fill="#000"/>
</svg></body></html>
